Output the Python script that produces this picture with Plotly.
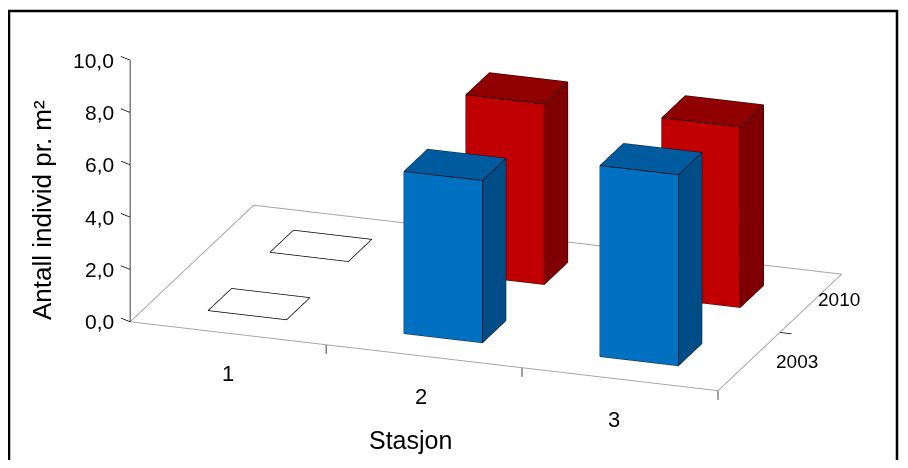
import plotly.graph_objects as go

# data
stations = ["1", "2", "3"]
years = ["2003", "2010"]
values_2003 = [0.0, 6.2, 7.3]
values_2010 = [0.0, 6.9, 6.9]
value_ticks = [0, 2, 4, 6, 8, 10]
value_ticktext = ["0,0", "2,0", "4,0", "6,0", "8,0", "10,0"]

series = [
    {"name": years[0], "values": values_2003, "row": 0,
     "front": "#0070C0", "side": "#004C86", "top": "#005A9E"},
    {"name": years[1], "values": values_2010, "row": 1,
     "front": "#C00000", "side": "#7F0000", "top": "#900000"},
]

FONT = "Arial, Liberation Sans, sans-serif"
W, H = 892, 452   # page body has an 8px margin
hw, hd = 0.2, 0.19  # half width / half depth of a column


def px(x, y):
    # page pixel -> paper fraction
    return (x - 8) / W, 1 - (y - 8) / H


fig = go.Figure()

x_lo, x_hi = -0.5, len(stations) - 0.5
y_lo, y_hi = -0.5, len(years) - 0.5
pad = 0.1  # room for tick marks outside the floor

# floor outline
fig.add_trace(go.Scatter3d(
    x=[x_lo, x_hi, x_hi, x_lo, x_lo], y=[y_lo, y_lo, y_hi, y_hi, y_lo], z=[0, 0, 0, 0, 0],
    mode="lines", line=dict(color="#A6A6A6", width=2), hoverinfo="skip", showlegend=False))

# tick marks and value axis
tx, ty, tz = [], [], []
for i in range(1, len(stations) + 1):
    tx += [i - 0.5, i - 0.5, None]
    ty += [y_lo, y_lo, None]
    tz += [0, -0.35, None]
tx += [x_hi, x_hi + 0.06, None]
ty += [0.5, 0.5, None]
tz += [0, 0, None]
tx += [x_lo, x_lo, None]
ty += [y_lo, y_lo, None]
tz += [0, 10, None]
for v in value_ticks:
    tx += [x_lo, x_lo - 0.06, None]
    ty += [y_lo, y_lo + 0.04, None]
    tz += [v, v, None]
fig.add_trace(go.Scatter3d(x=tx, y=ty, z=tz, mode="lines",
                           line=dict(color="black", width=1.5),
                           hoverinfo="skip", showlegend=False))

ex, ey, ez = [], [], []
for s in series:
    vx, vy, vz, fi, fj, fk, fc = [], [], [], [], [], [], []
    yc = s["row"]
    for xc, val in enumerate(s["values"]):
        x0, x1, y0, y1 = xc - hw, xc + hw, yc - hd, yc + hd
        if val == 0:
            # empty footprint only
            ex += [x0, x1, x1, x0, x0, None]
            ey += [y0, y0, y1, y1, y0, None]
            ez += [0, 0, 0, 0, 0, None]
            continue
        base = len(vx)
        corners = [(x0, y0, 0), (x1, y0, 0), (x1, y1, 0), (x0, y1, 0),
                   (x0, y0, val), (x1, y0, val), (x1, y1, val), (x0, y1, val)]
        for c in corners:
            vx.append(c[0]); vy.append(c[1]); vz.append(c[2])
        tris = [((0, 1, 5), "front"), ((0, 5, 4), "front"),
                ((1, 2, 6), "side"), ((1, 6, 5), "side"),
                ((4, 5, 6), "top"), ((4, 6, 7), "top"),
                ((3, 2, 6), "side"), ((3, 6, 7), "side"),
                ((0, 3, 7), "side"), ((0, 7, 4), "side"),
                ((0, 1, 2), "side"), ((0, 2, 3), "side")]
        for (a, b, c), face in tris:
            fi.append(base + a); fj.append(base + b); fk.append(base + c)
            fc.append(s[face])
        for a, b in [(0, 1), (1, 2), (2, 3), (3, 0), (4, 5), (5, 6), (6, 7), (7, 4),
                     (0, 4), (1, 5), (2, 6), (3, 7)]:
            ex += [corners[a][0], corners[b][0], None]
            ey += [corners[a][1], corners[b][1], None]
            ez += [corners[a][2], corners[b][2], None]
    if vx:
        fig.add_trace(go.Mesh3d(
            x=vx, y=vy, z=vz, i=fi, j=fj, k=fk, facecolor=fc, flatshading=True,
            lighting=dict(ambient=1, diffuse=0, specular=0, roughness=1, fresnel=0),
            hoverinfo="skip", showscale=False, name=s["name"]))

fig.add_trace(go.Scatter3d(x=ex, y=ey, z=ez, mode="lines",
                           line=dict(color="black", width=1.5),
                           hoverinfo="skip", showlegend=False))

scene_ann = []
for v, t in zip(value_ticks, value_ticktext):
    scene_ann.append(dict(x=x_lo, y=y_lo, z=v, text=t, showarrow=False,
                          xanchor="right", xshift=-14, font=dict(size=21, color="black", family=FONT)))
for i, t in enumerate(stations):
    scene_ann.append(dict(x=i, y=y_lo, z=0, text=t, showarrow=False,
                          yshift=-40, xshift=-3 * i, font=dict(size=22, color="black", family=FONT)))
for r, t in enumerate(years):
    scene_ann.append(dict(x=x_hi, y=r, z=0, text=t, showarrow=False,
                          xanchor="left", xshift=25 - 20 * r, yshift=4 * r,
                          font=dict(size=19, color="black", family=FONT)))

# camera: orthographic view from front-right, slightly above
eye_dir = (0.6274, -1.7788, 0.665)
center = (-0.1004, -0.1396, -0.2789)

axis_off = dict(visible=False, showgrid=False, zeroline=False, showspikes=False)
ytx, yty = px(42, 210)
stx, sty = px(410, 440)
fx0, fy1 = px(9, 11)
fx1, _ = px(897, 0)
fig.update_layout(
    width=W, height=H,
    margin=dict(l=0, r=0, t=0, b=0),
    paper_bgcolor="white",
    showlegend=False,
    scene=dict(
        domain=dict(x=[0, 1], y=[0, 1]),
        xaxis=dict(range=[x_lo - pad, x_hi + pad], **axis_off),
        yaxis=dict(range=[y_lo - pad, y_hi + pad], **axis_off),
        zaxis=dict(range=[-0.5, 10.5], **axis_off),
        aspectmode="manual",
        aspectratio=dict(x=2.942, y=1.809, z=1.350),
        camera=dict(eye=dict(x=center[0] + eye_dir[0], y=center[1] + eye_dir[1],
                             z=center[2] + eye_dir[2]),
                    center=dict(x=center[0], y=center[1], z=center[2]),
                    up=dict(x=0, y=0, z=1),
                    projection=dict(type="orthographic")),
        bgcolor="white",
        annotations=scene_ann,
        dragmode=False,
    ),
    annotations=[
        dict(text="Antall individ pr. m²", x=ytx, y=yty, xref="paper", yref="paper",
             xanchor="center", yanchor="middle",
             showarrow=False, textangle=-90, font=dict(size=26, color="black", family=FONT)),
        dict(text="Stasjon", x=stx, y=sty, xref="paper", yref="paper", showarrow=False,
             xanchor="center", yanchor="middle",
             font=dict(size=25, color="black", family=FONT)),
    ],
    shapes=[dict(type="rect", xref="paper", yref="paper", x0=fx0, x1=fx1, y0=-0.1, y1=fy1,
                 line=dict(color="black", width=2.5))],
)

fig.write_html("out.html")
